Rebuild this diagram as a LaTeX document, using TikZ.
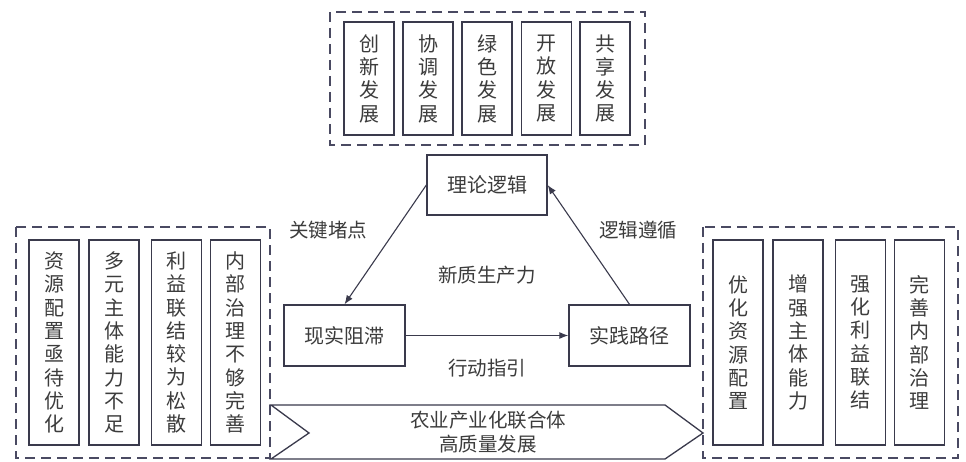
\documentclass[tikz,border=0pt]{standalone}
\usepackage{fontspec}
\newfontfamily\cjk{Noto Sans CJK SC}
\usetikzlibrary{arrows.meta}
\definecolor{ln}{HTML}{3A3A4C}
\definecolor{dl}{HTML}{4A4A62}
\definecolor{tx}{HTML}{3C3C3C}
\tikzset{
 vbox/.style={draw=ln, line width=1.3pt, minimum width=50pt, inner sep=0pt, font=\cjk\fontsize{20}{23.3}\selectfont, text=tx, align=center},
 tbox/.style={draw=ln, line width=1.3pt, minimum width=121pt, minimum height=61pt, inner sep=0pt, font=\cjk\fontsize{20}{24}\selectfont, text=tx},
 dbox/.style={draw=dl, line width=1.3pt, dash pattern=on 10pt off 6pt},
 lbl/.style={font=\cjk\fontsize{19.5}{24}\selectfont, text=tx, inner sep=0pt},
 arr/.style={draw=ln, line width=1.1pt, -{Latex[length=9pt,width=7pt]}},
 banner/.style={draw=ln, line width=1.3pt}
}
\begin{document}
\begin{tikzpicture}[x=1pt,y=-1pt]
\useasboundingbox[fill=white] (0,0) rectangle (966,462);
% dashed groups
\draw[dbox] (330,12) rectangle (645,145);
\draw[dbox] (16,227) rectangle (270,458);
\draw[dbox] (703,227) rectangle (958,458);
% top boxes
\node[vbox, minimum height=113pt] (t1) at (369,78.5) {创\\新\\发\\展};
\node[vbox, minimum height=113pt] (t2) at (428,78.5) {协\\调\\发\\展};
\node[vbox, minimum height=113pt] (t3) at (487,78.5) {绿\\色\\发\\展};
\node[vbox, minimum height=113pt] (t4) at (546.5,78.5) {开\\放\\发\\展};
\node[vbox, minimum height=113pt] (t5) at (605,78.5) {共\\享\\发\\展};
% left boxes
\node[vbox, minimum height=205pt] (l1) at (54,342.5) {资\\源\\配\\置\\亟\\待\\优\\化};
\node[vbox, minimum height=205pt] (l2) at (114,342.5) {多\\元\\主\\体\\能\\力\\不\\足};
\node[vbox, minimum height=205pt] (l3) at (176.5,342.5) {利\\益\\联\\结\\较\\为\\松\\散};
\node[vbox, minimum height=205pt] (l4) at (235.5,342.5) {内\\部\\治\\理\\不\\够\\完\\善};
% right boxes
\node[vbox, minimum height=205pt] (r1) at (738,342.5) {优\\化\\资\\源\\配\\置};
\node[vbox, minimum height=205pt] (r2) at (798,342.5) {增\\强\\主\\体\\能\\力};
\node[vbox, minimum height=205pt] (r3) at (860.5,342.5) {强\\化\\利\\益\\联\\结};
\node[vbox, minimum height=205pt] (r4) at (919.5,342.5) {完\\善\\内\\部\\治\\理};
% triangle
\node[tbox, minimum width=120pt, minimum height=60pt] (ll) at (487,185) {理论逻辑};
\node[tbox] (xs) at (344.5,335.5) {现实阻滞};
\node[tbox] (sj) at (629.5,335.5) {实践路径};
\draw[arr] (ll.west) -- (xs.north);
\draw[arr] (sj.north) -- (ll.east);
\draw[arr] (xs.east) -- (sj.west);
\node[lbl] (k1) at (328,230) {关键堵点};
\node[lbl] (k2) at (638,230) {逻辑遵循};
\node[lbl] (k3) at (487,275) {新质生产力};
\node[lbl] (k4) at (487,368) {行动指引};
% banner
\draw[banner] (271,405) -- (665,405) -- (703,433) -- (665,459) -- (271,459) -- (309,433) -- cycle;
\node[lbl, align=center, font=\cjk\fontsize{19.5}{24}\selectfont] (bn) at (488,432) {农业产业化联合体\\高质量发展};
\end{tikzpicture}
\end{document}
